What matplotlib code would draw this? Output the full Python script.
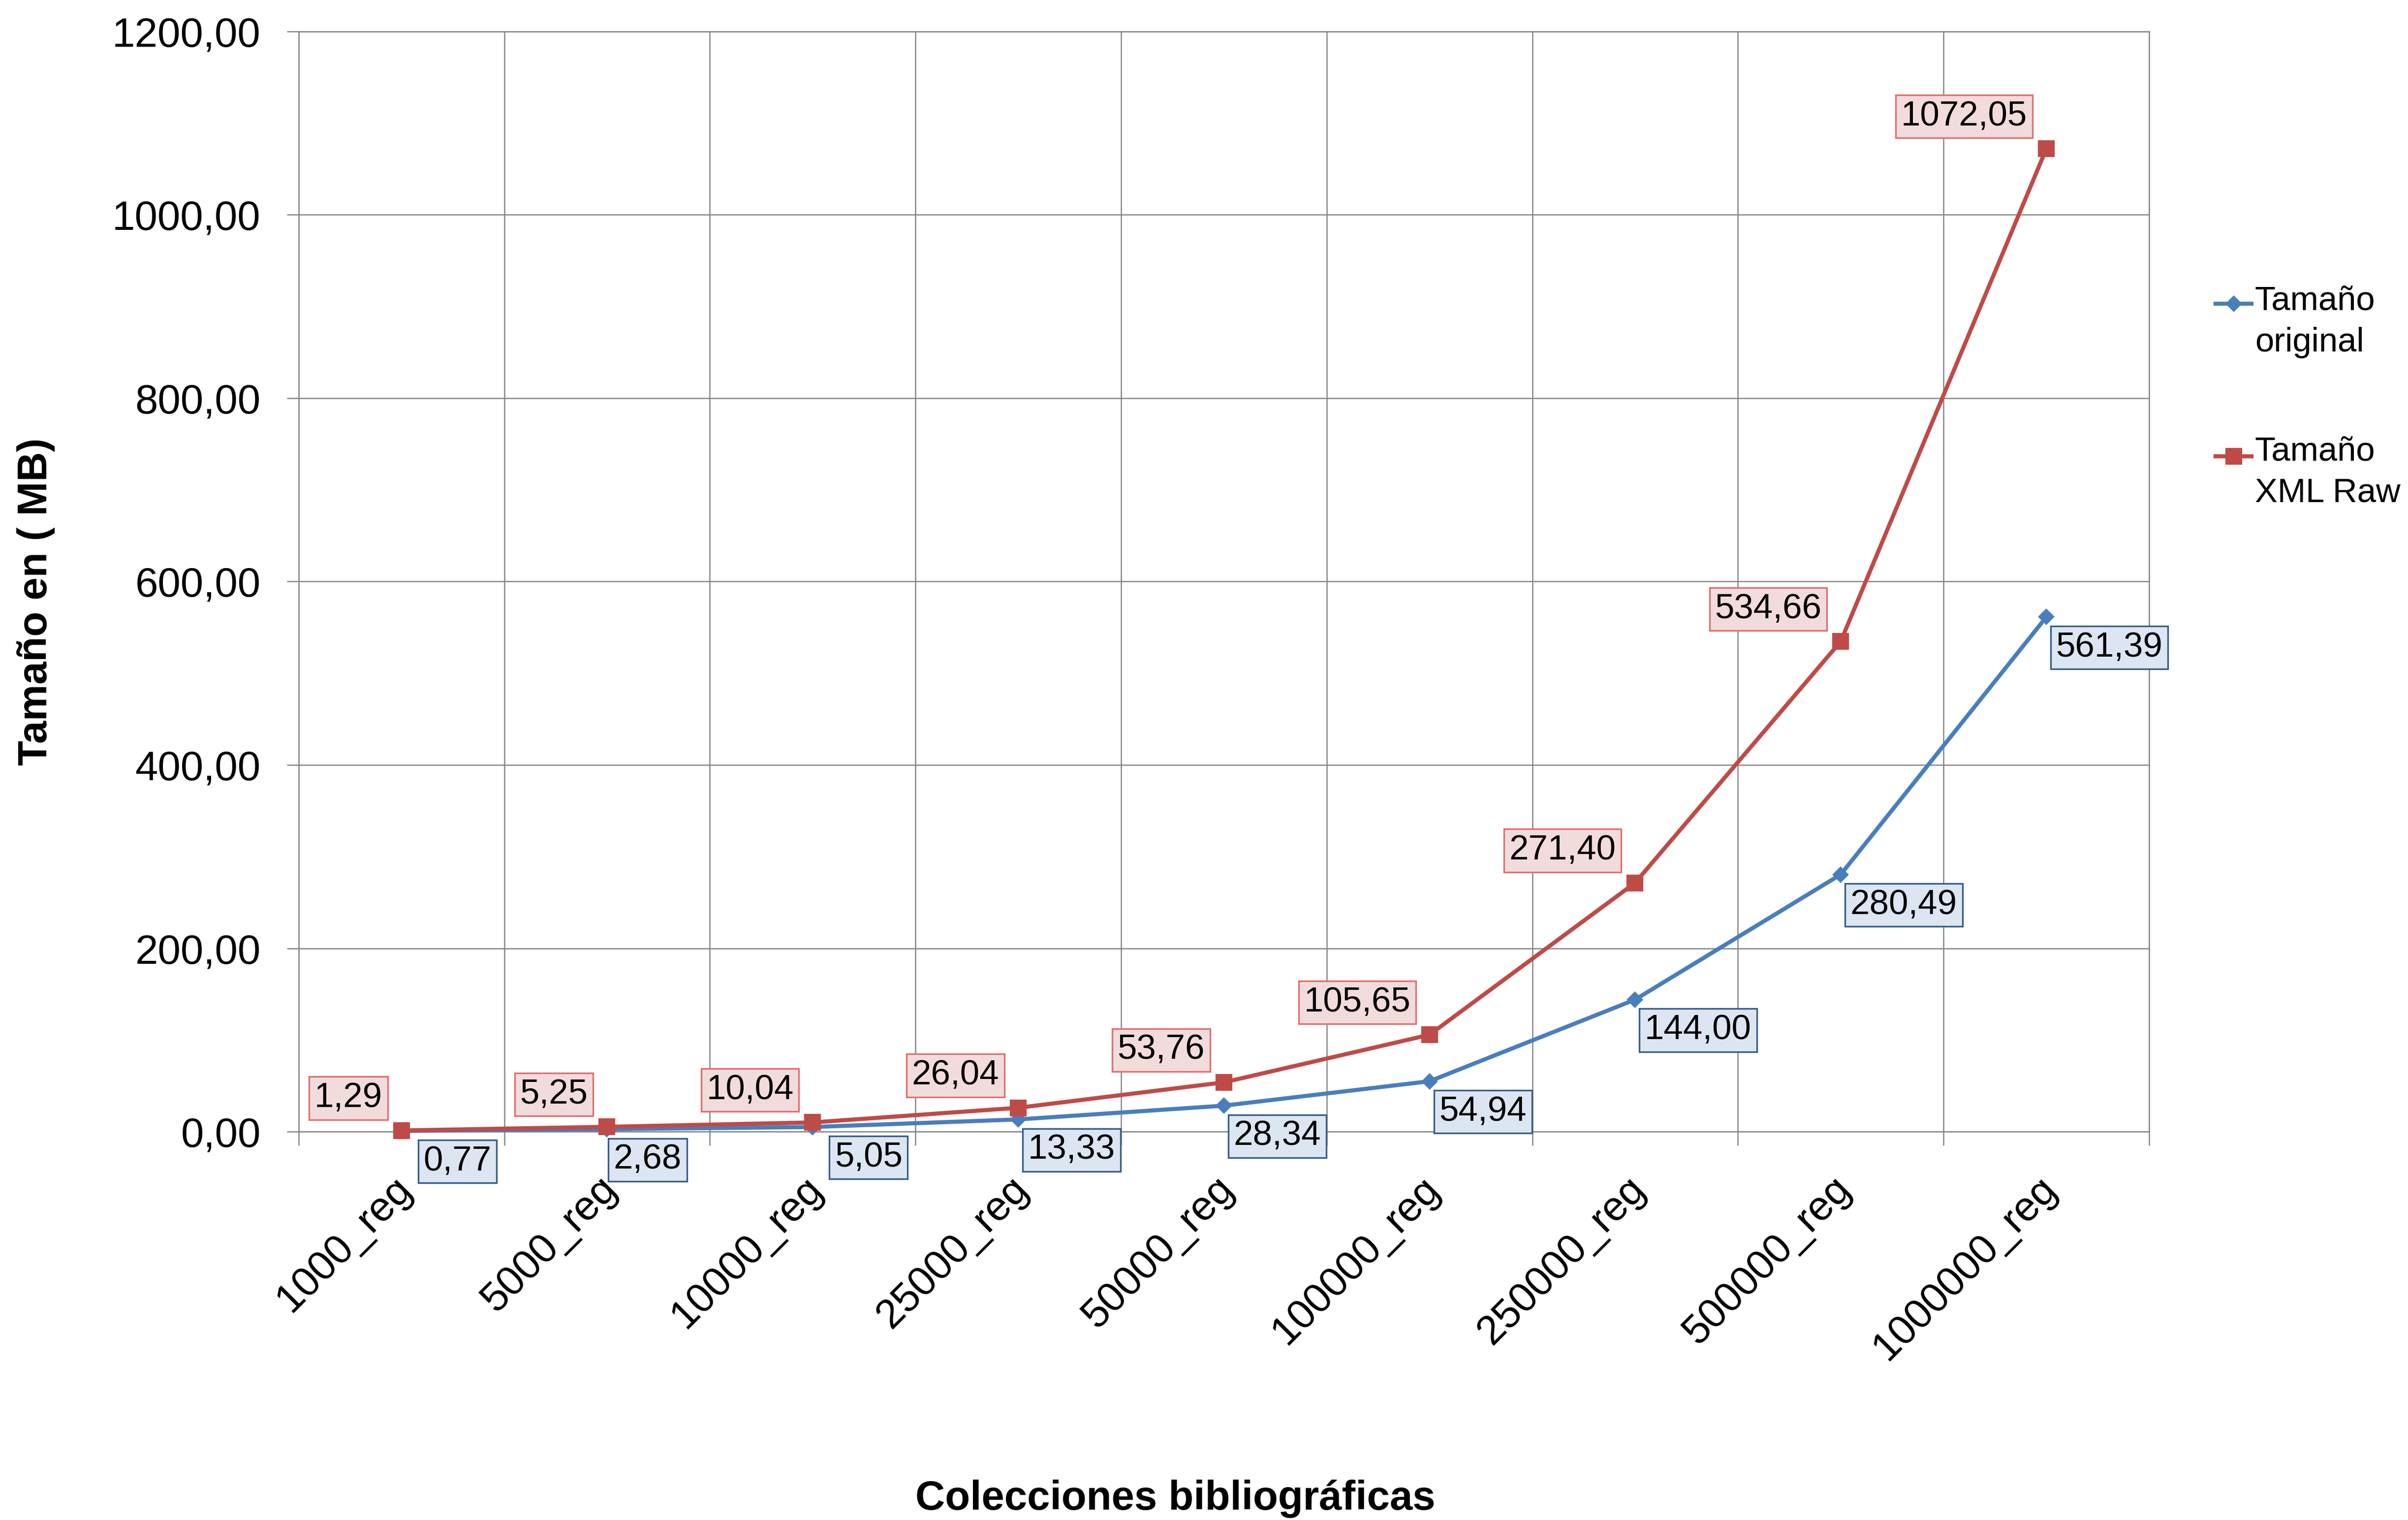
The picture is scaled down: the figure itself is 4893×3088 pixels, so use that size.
import matplotlib.pyplot as plt
from matplotlib.lines import Line2D
import matplotlib.transforms as mtransforms
import numpy as np

plt.rcParams['font.family'] = ['Liberation Sans', 'DejaVu Sans']

# datos de tamaño por colección (MB)
colecciones = ["1000_reg", "5000_reg", "10000_reg", "25000_reg", "50000_reg",
               "100000_reg", "250000_reg", "500000_reg", "1000000_reg"]
tam_original = [0.77, 2.68, 5.05, 13.33, 28.34, 54.94, 144.00, 280.49, 561.39]
tam_xml_raw = [1.29, 5.25, 10.04, 26.04, 53.76, 105.65, 271.40, 534.66, 1072.05]
y_ticks = [0, 200, 400, 600, 800, 1000, 1200]

AZUL = '#4A7EBB'
ROJO = '#BE4B48'
GRIS = '#868686'


def coma(v):
    return f"{v:.2f}".replace(".", ",")


fig = plt.figure(figsize=(4893 / 300, 3088 / 300), dpi=300)
ax = fig.add_axes([0.1240, 0.2555, 0.7685, 0.7238])

x = np.arange(len(colecciones))
ax.plot(x, tam_original, color=AZUL, lw=2.0, marker='D', ms=4.8, zorder=3, clip_on=False)
ax.plot(x, tam_xml_raw, color=ROJO, lw=2.0, marker='s', ms=7, zorder=4, clip_on=False)

ax.set_xlim(-0.5, len(x) - 0.5)
ax.set_ylim(0, 1200)
ax.set_yticks(y_ticks)
ax.set_yticklabels([coma(v) for v in y_ticks])
ax.set_xticks(x)
ax.set_xticklabels(colecciones, rotation=45, ha='right', va='center', rotation_mode='anchor')
ax.set_xticks(np.arange(-0.5, len(x)), minor=True)

ax.tick_params(axis='x', which='major', length=0, pad=25, labelsize=20)
ax.tick_params(axis='x', which='minor', length=6.7, width=0.6, color=GRIS)
ax.tick_params(axis='y', length=5.8, width=0.6, color=GRIS, pad=12.7, labelsize=20)
ax.grid(axis='y', which='major', color=GRIS, lw=0.6)
ax.grid(axis='x', which='minor', color=GRIS, lw=0.6)
ax.set_axisbelow(True)
for s in ax.spines.values():
    s.set_color(GRIS)
    s.set_linewidth(0.6)

# desplazar etiquetas giradas
desp = mtransforms.ScaledTranslation(2 / 72, 0, fig.dpi_scale_trans)
for lab in ax.get_xticklabels():
    lab.set_transform(lab.get_transform() + desp)

# etiquetas de datos
for i, v in enumerate(tam_xml_raw):
    ax.annotate(coma(v), (x[i], v), xytext=(-9.3, 7.8), textcoords='offset points',
                ha='right', va='bottom', fontsize=17, zorder=5,
                bbox=dict(boxstyle='square,pad=0.15', fc='#F2DCDB', ec='#E07070', lw=0.8))

ajuste = {0: 6, 1: -1.5, 2: 6}
for i, v in enumerate(tam_original):
    ax.annotate(coma(v), (x[i], v), xytext=(4.7 + ajuste.get(i, 0), -7), textcoords='offset points',
                ha='left', va='top', fontsize=17, zorder=5, annotation_clip=False,
                bbox=dict(boxstyle='square,pad=0.15', fc='#DCE6F2', ec='#385D8A', lw=0.8))

# leyenda
leyenda = [(AZUL, 'D', 4.8, 'Tamaño\noriginal', 617, 580),
           (ROJO, 's', 7, 'Tamaño\nXML Raw', 927, 886)]
for col, mk, ms, txt, y_linea, y_top in leyenda:
    yl = 1 - y_linea / 3088
    fig.add_artist(Line2D([0.9201, 0.9350], [yl, yl], color=col, lw=2.0,
                          transform=fig.transFigure))
    fig.add_artist(Line2D([0.92755], [yl], color=col, marker=mk, ms=ms,
                          transform=fig.transFigure))
    fig.text(0.9364, 1 - y_top / 3088, txt, va='top', ha='left',
             fontsize=16.5, linespacing=1.4)

fig.text(0.488, 0.0068, 'Colecciones bibliográficas', ha='center', va='baseline',
         fontsize=20, fontweight='bold')
fig.text(0.0149, 0.604, 'Tamaño en ( MB)', ha='center', va='center', rotation=90,
         fontsize=20, fontweight='bold')

fig.savefig('out.png', dpi=300, facecolor='white')
